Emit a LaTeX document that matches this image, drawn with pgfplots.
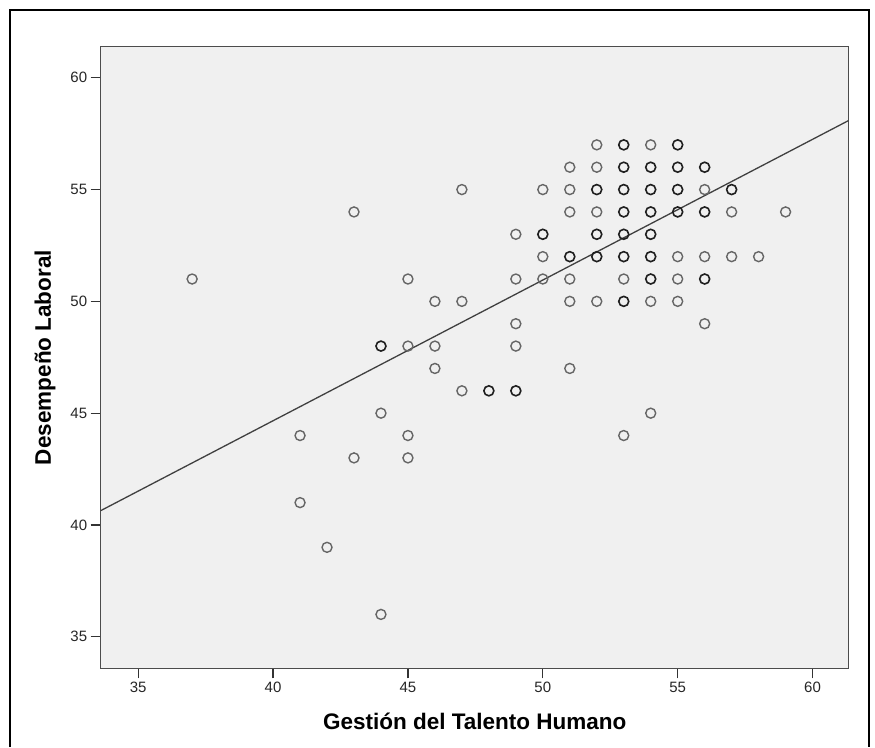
\documentclass[border=0pt]{standalone}
\usepackage{pgfplots}
\pgfplotsset{compat=1.18}
\usepackage{fontspec}
\setmainfont{Liberation Sans}
\definecolor{plotbg}{HTML}{F0F0F0}
\begin{document}
\begin{tikzpicture}[x=1pt,y=1pt]
\useasboundingbox (0,0) rectangle (875,747);
\draw[black, line width=1.3pt] (10,0) -- (10,737) -- (869,737) -- (869,0);
\begin{axis}[
    at={(100.7pt,78.7pt)}, anchor=south west,
    scale only axis, width=748pt, height=621.6pt,
    xmin=33.61, xmax=61.34, ymin=33.59, ymax=61.39,
    xtick={35,40,...,60}, ytick={35,40,...,60},
    tick pos=left, tick align=outside, major tick length=10pt,
    tick style={black!80, line width=1.2pt},
    axis line style={black!70, line width=1.2pt},
    axis background/.style={fill=plotbg},
    ticklabel style={font=\fontsize{15}{18}\selectfont, text=black!85},
    /pgf/number format/assume math mode=true,
    xlabel={Gestión del Talento Humano},
    ylabel={Desempeño Laboral},
    label style={font=\fontsize{22.5}{26}\selectfont\bfseries},
    xlabel style={at={(axis description cs:0.5,-0.0977)}, anchor=base},
    ylabel style={at={(axis description cs:-0.0745,0.5)}, anchor=center},
]
% single cases
\addplot[only marks, mark=o, mark size=5pt, mark options={draw=black!60, line width=1.4pt}] coordinates {
(52,57) (54,57)
(51,56) (52,56)
(47,55) (50,55) (51,55) (56,55)
(43,54) (51,54) (52,54) (57,54) (59,54)
(49,53)
(50,52) (55,52) (56,52) (57,52) (58,52)
(37,51) (45,51) (49,51) (50,51) (51,51) (53,51) (55,51)
(46,50) (47,50) (51,50) (52,50) (54,50) (55,50)
(49,49) (56,49)
(45,48) (46,48) (49,48)
(46,47) (51,47)
(47,46)
(44,45) (54,45)
(41,44) (45,44) (53,44)
(43,43) (45,43)
(41,41) (42,39) (44,36)
};
% overlapping cases
\addplot[only marks, mark=o, mark size=5pt, mark options={draw=black!88, line width=1.6pt}] coordinates {
(53,57) (55,57)
(53,56) (54,56) (55,56) (56,56)
(52,55) (53,55) (54,55) (55,55) (57,55)
(53,54) (54,54) (55,54) (56,54)
(50,53) (52,53) (53,53) (54,53)
(51,52) (52,52) (53,52) (54,52)
(54,51) (56,51)
(53,50)
(44,48)
(48,46) (49,46)
};
% fit line
\addplot[no markers, color=black!75, line width=1.3pt] coordinates {(33.61,40.64) (61.34,58.09)};
\end{axis}
\end{tikzpicture}
\end{document}
